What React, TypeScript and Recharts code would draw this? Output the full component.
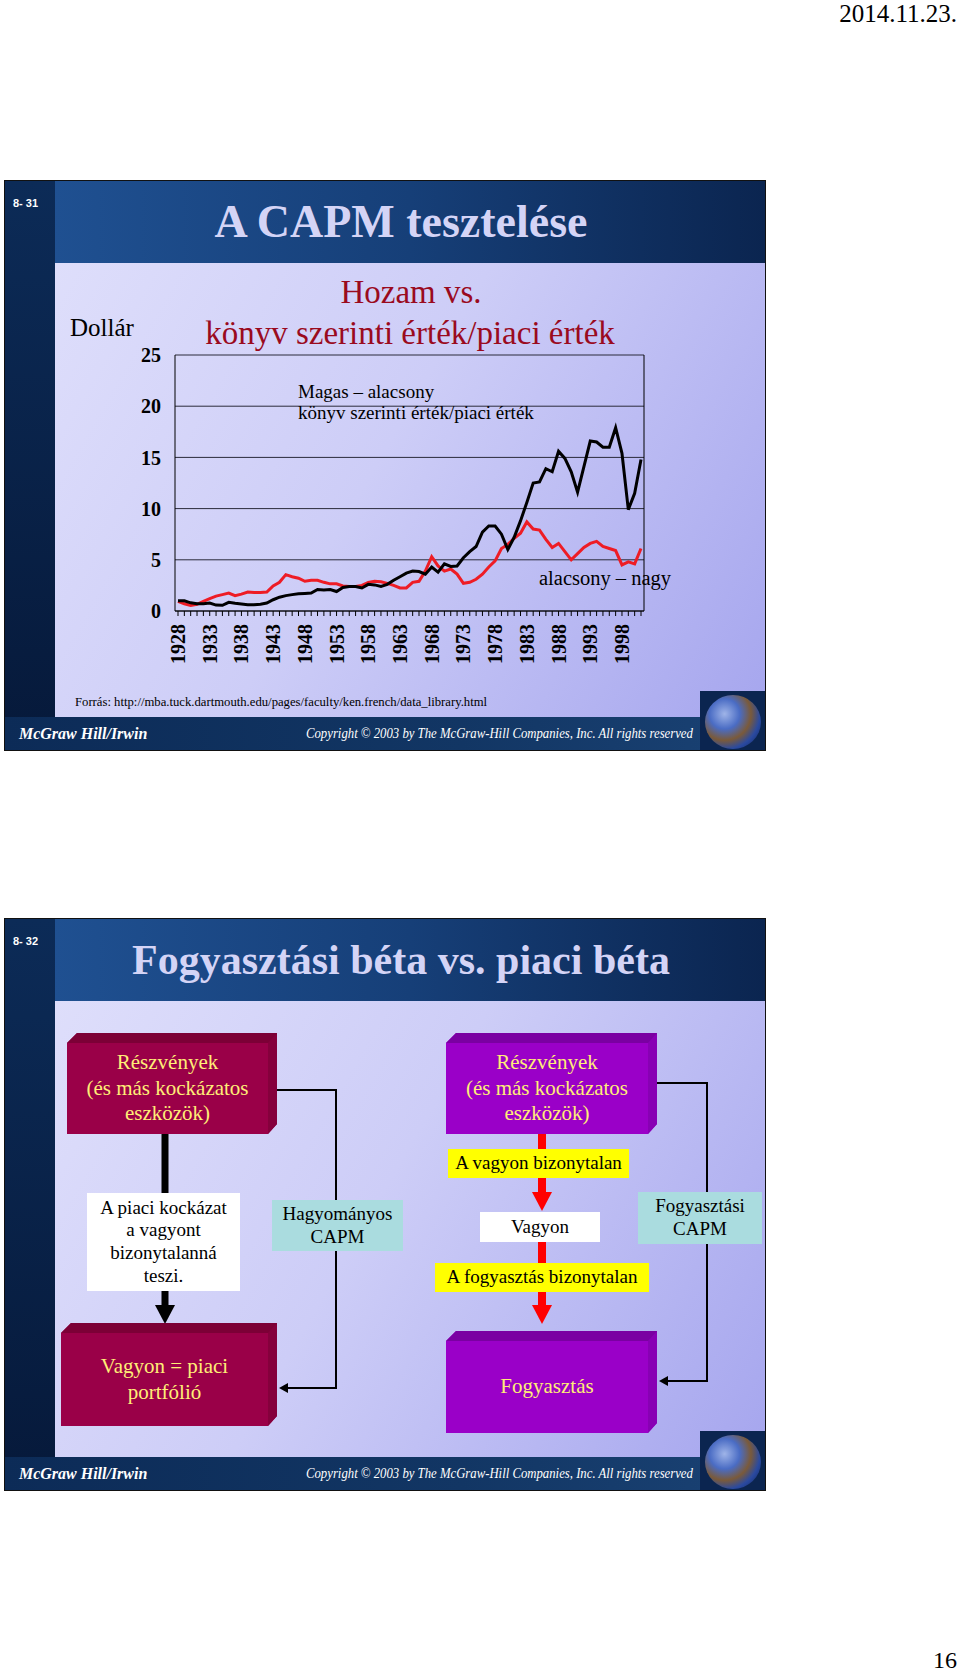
import { LineChart, Line, XAxis, YAxis, CartesianGrid } from "recharts";

// évek (kategóriák)
const years = [
  "1928", "1929", "1930", "1931", "1932", "1933", "1934", "1935", "1936", "1937",
  "1938", "1939", "1940", "1941", "1942", "1943", "1944", "1945", "1946", "1947",
  "1948", "1949", "1950", "1951", "1952", "1953", "1954", "1955", "1956", "1957",
  "1958", "1959", "1960", "1961", "1962", "1963", "1964", "1965", "1966", "1967",
  "1968", "1969", "1970", "1971", "1972", "1973", "1974", "1975", "1976", "1977",
  "1978", "1979", "1980", "1981", "1982", "1983", "1984", "1985", "1986", "1987",
  "1988", "1989", "1990", "1991", "1992", "1993", "1994", "1995", "1996", "1997",
  "1998", "1999", "2000", "2001",
];

// Magas – alacsony könyv szerinti érték/piaci érték (fekete)
const magasAlacsony = [
  1.0, 1.0, 0.8, 0.7, 0.7, 0.78, 0.58, 0.56, 0.85, 0.75,
  0.68, 0.62, 0.62, 0.66, 0.78, 1.1, 1.35, 1.5, 1.6, 1.68,
  1.72, 1.75, 2.1, 2.05, 2.1, 1.9, 2.3, 2.4, 2.4, 2.25,
  2.6, 2.55, 2.4, 2.6, 3.0, 3.35, 3.7, 3.9, 3.85, 3.6,
  4.3, 3.8, 4.6, 4.35, 4.4, 5.2, 5.8, 6.3, 7.7, 8.3,
  8.3, 7.5, 6.0, 7.2, 8.8, 10.6, 12.5, 12.6, 13.9, 13.6,
  15.6, 14.9, 13.6, 11.6, 14.1, 16.6, 16.5, 16.0, 16.0, 17.9,
  15.4, 9.9, 11.5, 14.8,
];

// alacsony – nagy (piros)
const alacsonyNagy = [
  0.95, 0.7, 0.55, 0.65, 0.95, 1.2, 1.45, 1.6, 1.75, 1.5,
  1.65, 1.85, 1.8, 1.8, 1.85, 2.45, 2.8, 3.55, 3.35, 3.2,
  2.9, 3.0, 3.0, 2.8, 2.65, 2.65, 2.45, 2.4, 2.4, 2.5,
  2.8, 2.9, 2.85, 2.7, 2.5, 2.25, 2.25, 2.8, 2.9, 3.9,
  5.3, 4.4, 3.9, 4.1, 3.6, 2.7, 2.8, 3.1, 3.6, 4.3,
  4.9, 6.1, 6.5, 7.1, 7.6, 8.7, 8.0, 7.9, 7.0, 6.2,
  6.6, 5.8, 5.0, 5.6, 6.2, 6.6, 6.8, 6.3, 6.1, 5.9,
  4.5, 4.8, 4.6, 6.1,
];

const yTicks = [0, 5, 10, 15, 20, 25];
const labeledYears = ["1928", "1933", "1938", "1943", "1948", "1953", "1958", "1963", "1968", "1973", "1978", "1983", "1988", "1993", "1998"];

const chartData = years.map((year, i) => ({
  year,
  hml: magasAlacsony[i],
  lmh: alacsonyNagy[i],
}));

const serif = '"Liberation Serif", "Times New Roman", serif';

function YearTick(props: any) {
  const { x, y, payload } = props;
  if (!labeledYears.includes(payload.value)) return null;
  return (
    <text
      x={x}
      y={y}
      transform={`rotate(-90 ${x} ${y})`}
      textAnchor="end"
      dy="0.35em"
      fontFamily={serif}
      fontWeight="bold"
      fontSize={20}
      fill="#000"
    >
      {payload.value}
    </text>
  );
}

function Txt({ x, y, w, size, color = "#000", center, bold, italic, family = serif, squeeze, children }: any) {
  return (
    <div
      style={{
        position: "absolute",
        left: x,
        top: y,
        width: w,
        fontSize: size,
        color,
        fontFamily: family,
        fontWeight: bold ? "bold" : "normal",
        fontStyle: italic ? "italic" : "normal",
        textAlign: center ? "center" : "left",
        lineHeight: 1,
        whiteSpace: "nowrap",
        transform: squeeze ? `scaleX(${squeeze})` : undefined,
        transformOrigin: "left center",
      }}
    >
      {children}
    </div>
  );
}

function Slide({ top, height, num, title, titleSize }: any) {
  return (
    <>
      <div style={{ position: "absolute", left: 5, top, width: 760, height, background: "#06193a", boxShadow: "0 0 0 1px #111" }} />
      <div style={{ position: "absolute", left: 5, top, width: 50, height, background: "linear-gradient(180deg, #0c2b57, #06193a)" }} />
      <div style={{ position: "absolute", left: 55, top, width: 710, height: 82, background: "linear-gradient(90deg, #1f5091 0%, #163f78 50%, #0b2550 100%)" }} />
      <div style={{ position: "absolute", left: 55, top: top + 82, width: 710, height: height - 82 - 33, background: "linear-gradient(120deg, #dedefb 0%, #cdcdf7 45%, #a6a6ee 100%)" }} />
      <div style={{ position: "absolute", left: 5, top: top + height - 33, width: 760, height: 33, background: "linear-gradient(90deg, #0c2b57 0%, #123664 60%, #1a4274 100%)" }} />
      <div style={{ position: "absolute", left: 700, top: top + height - 59, width: 65, height: 59, background: "#0b2550", overflow: "hidden" }}>
        <div style={{ position: "absolute", left: 5, top: 4, width: 56, height: 54, borderRadius: "50%", background: "radial-gradient(circle at 35% 35%, #9fb4e8 0%, #4a6cc4 30%, #7a5a3a 52%, #2a4aa0 70%, #0a1c50 100%)" }} />
      </div>
      <Txt x={13} y={top + 17} size={11} bold color="#fff" family="Arial, 'Liberation Sans', sans-serif">{num}</Txt>
      <Txt x={0} y={top + 41 - titleSize / 2} w={802} size={titleSize} bold center color="#d4d4f6">{title}</Txt>
      <Txt x={19} y={top + height - 25} size={17} bold italic color="#fff" squeeze={0.94}>McGraw Hill/Irwin</Txt>
      <Txt x={306} y={top + height - 23} size={14} italic color="#fff" squeeze={0.91}>Copyright © 2003 by The McGraw-Hill Companies, Inc. All rights reserved</Txt>
    </>
  );
}

function BevelBox({ left, top, width, height, front, topFace, side, lines }: any) {
  return (
    <div
      style={{
        position: "absolute",
        left,
        top,
        width,
        height,
        boxSizing: "border-box",
        background: front,
        borderTop: `10px solid ${topFace}`,
        borderRight: `9px solid ${side}`,
        clipPath: "polygon(0 10px, 10px 0, 100% 0, 100% calc(100% - 10px), calc(100% - 9px) 100%, 0 100%)",
        display: "flex",
        flexDirection: "column",
        alignItems: "center",
        justifyContent: "center",
        color: "#ffee77",
        fontFamily: serif,
        fontSize: 21,
        lineHeight: "25.6px",
      }}
    >
      {lines.map((l: string) => (
        <div key={l}>{l}</div>
      ))}
    </div>
  );
}

function FlatBox({ left, top, width, height, bg, lines, size = 19, lh = "22.7px" }: any) {
  return (
    <div
      style={{
        position: "absolute",
        left,
        top,
        width,
        height,
        background: bg,
        display: "flex",
        flexDirection: "column",
        alignItems: "center",
        justifyContent: "center",
        fontFamily: serif,
        fontSize: size,
        lineHeight: lh,
        color: "#000",
        whiteSpace: "nowrap",
      }}
    >
      {lines.map((l: string) => (
        <div key={l}>{l}</div>
      ))}
    </div>
  );
}

export default function App() {
  return (
    <div style={{ position: "absolute", left: 0, top: 0, width: 960, height: 1672, background: "#fff", overflow: "hidden" }}>
      <Txt x={700} y={1} w={257} size={25} color="#000">
        <div style={{ textAlign: "right" }}>2014.11.23.</div>
      </Txt>

      {/* 8-31 */}
      <Slide top={181} height={569} num="8- 31" title="A CAPM tesztelése" titleSize={46} />
      <Txt x={0} y={276} w={822} size={33} center color="#9a0a1e">Hozam vs.</Txt>
      <Txt x={0} y={317} w={820} size={33} center color="#9a0a1e">könyv szerinti érték/piaci érték</Txt>
      <Txt x={70} y={315} size={25}>Dollár</Txt>

      <div style={{ position: "absolute", left: 100, top: 340 }}>
        <LineChart width={560} height={335} data={chartData} margin={{ top: 15, right: 15, bottom: 5, left: 35 }}>
          <CartesianGrid vertical={false} stroke="#2a2a3a" />
          <XAxis
            dataKey="year"
            interval={0}
            tick={YearTick}
            tickSize={5}
            tickMargin={8}
            height={59}
            padding={{ left: 3, right: 3 }}
            axisLine={{ stroke: "#000" }}
            tickLine={{ stroke: "#000" }}
          />
          <YAxis
            domain={[0, 25]}
            ticks={yTicks}
            interval={0}
            width={40}
            tickSize={0}
            tickMargin={14}
            axisLine={{ stroke: "#000" }}
            tick={{ fontFamily: serif, fontSize: 20, fontWeight: "bold", fill: "#000" }}
          />
          <YAxis yAxisId="r" orientation="right" domain={[0, 25]} tick={false} tickLine={false} width={1} axisLine={{ stroke: "#000" }} />
          <Line dataKey="lmh" stroke="#ee1c25" strokeWidth={3} dot={false} isAnimationActive={false} />
          <Line dataKey="hml" stroke="#000" strokeWidth={3} dot={false} isAnimationActive={false} />
        </LineChart>
      </div>

      <Txt x={298} y={382} size={19}>Magas – alacsony</Txt>
      <Txt x={298} y={403} size={19}>könyv szerinti érték/piaci érték</Txt>
      <Txt x={539} y={568} size={20.5}>alacsony – nagy</Txt>
      <Txt x={75} y={696} size={12.7}>Forrás: http://mba.tuck.dartmouth.edu/pages/faculty/ken.french/data_library.html</Txt>

      {/* 8-32 */}
      <Slide top={919} height={571} num="8- 32" title="Fogyasztási béta vs. piaci béta" titleSize={42} />

      <svg style={{ position: "absolute", left: 0, top: 0 }} width={960} height={1672}>
        <path d="M 277 1090 H 336 V 1388 H 286" fill="none" stroke="#000" strokeWidth={2} />
        <polygon points="279,1388 288,1383 288,1393" fill="#000" />
        <path d="M 657 1083 H 707 V 1381 H 666" fill="none" stroke="#000" strokeWidth={2} />
        <polygon points="659,1381 668,1376 668,1386" fill="#000" />
        <line x1={165} y1={1134} x2={165} y2={1306} stroke="#000" strokeWidth={7} />
        <polygon points="155,1305 175,1305 165,1324" fill="#000" />
        <line x1={542} y1={1134} x2={542} y2={1194} stroke="#ff0000" strokeWidth={8} />
        <polygon points="532,1192 552,1192 542,1211" fill="#ff0000" />
        <line x1={542} y1={1240} x2={542} y2={1306} stroke="#ff0000" strokeWidth={8} />
        <polygon points="532,1305 552,1305 542,1324" fill="#ff0000" />
      </svg>

      <BevelBox left={67} top={1033} width={210} height={101} front="#9a0048" topFace="#7c0036" side="#85003c" lines={["Részvények", "(és más kockázatos", "eszközök)"]} />
      <BevelBox left={446} top={1033} width={211} height={101} front="#9a00c8" topFace="#7a00a2" side="#8800b4" lines={["Részvények", "(és más kockázatos", "eszközök)"]} />
      <BevelBox left={61} top={1323} width={216} height={103} front="#9a0048" topFace="#7c0036" side="#85003c" lines={["Vagyon = piaci", "portfólió"]} />
      <BevelBox left={446} top={1331} width={211} height={102} front="#9a00c8" topFace="#7a00a2" side="#8800b4" lines={["Fogyasztás"]} />

      <FlatBox left={448} top={1149} width={181} height={29} bg="#ffff00" lines={["A vagyon bizonytalan"]} />
      <FlatBox left={480} top={1212} width={120} height={30} bg="#ffffff" lines={["Vagyon"]} />
      <FlatBox left={435} top={1263} width={214} height={29} bg="#ffff00" lines={["A fogyasztás bizonytalan"]} />
      <FlatBox left={87} top={1193} width={153} height={98} bg="#ffffff" lines={["A piaci kockázat", "a vagyont", "bizonytalanná", "teszi."]} />
      <FlatBox left={272} top={1200} width={131} height={51} bg="#aadcdf" lines={["Hagyományos", "CAPM"]} />
      <FlatBox left={638} top={1192} width={124} height={52} bg="#aadcdf" lines={["Fogyasztási", "CAPM"]} />

      <Txt x={900} y={1648} w={57} size={24}>
        <div style={{ textAlign: "right" }}>16</div>
      </Txt>
    </div>
  );
}
